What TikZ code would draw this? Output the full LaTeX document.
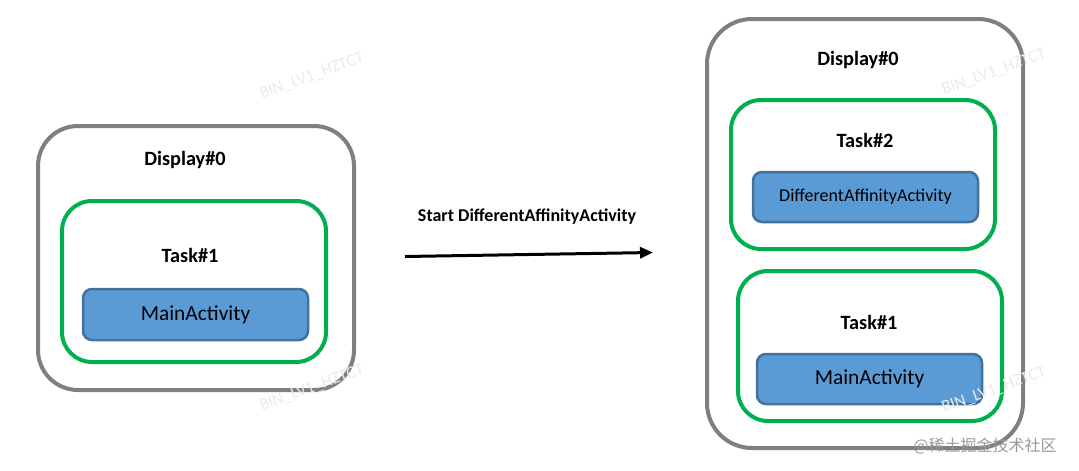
\documentclass[tikz,border=0pt]{standalone}
\usepackage{fontspec}
\setmainfont{Carlito}
\newfontfamily\cjkfont{Noto Sans CJK SC}
\usetikzlibrary{arrows.meta}
\definecolor{dispgray}{HTML}{7F7F7F}
\definecolor{taskgreen}{HTML}{00B050}
\definecolor{actfill}{HTML}{5B9BD5}
\definecolor{actline}{HTML}{41719C}
\definecolor{wmgray}{HTML}{EBEBEB}
\definecolor{wmdark}{HTML}{999999}
\tikzset{
  displaybox/.style={draw=dispgray, line width=4pt, rounded corners=40pt, fill=white, inner sep=0pt},
  taskbox/.style={draw=taskgreen, line width=4pt, rounded corners=30pt, inner sep=0pt},
  actbox/.style={draw=actline, fill=actfill, line width=2.5pt, rounded corners=9pt, inner sep=0pt, font=\fontsize{21.4}{25}\selectfont},
  title/.style={font=\bfseries\fontsize{20.3}{24}\selectfont, inner sep=0pt},
  watermark/.style={text=wmgray, rotate=20, font=\fontsize{17}{20}\selectfont, inner sep=0pt},
}
\begin{document}
\begin{tikzpicture}[x=1pt,y=-1pt]
\useasboundingbox (0,0) rectangle (1079,471);
\fill[white] (0,0) rectangle (1079,471);

% left side
\node[displaybox, minimum width=316pt, minimum height=264pt] (dispL) at (196,258) {};
\node[title] (dispLt) at (185,160) {Display\#0};
\node[taskbox, minimum width=264pt, minimum height=161pt] (taskL) at (194,281.5) {};
\node[title] (taskLt) at (190,255) {Task\#1};
\node[actbox, minimum width=225pt, minimum height=51pt] (mainL) at (195.5,314.5) {MainActivity};

% arrow
\coordinate (aS) at (405,256.5);
\coordinate (aE) at (653,252.5);
\draw[line width=3pt, -{Triangle[length=13pt,width=11pt]}] (aS) -- (aE);
\node[font=\bfseries\fontsize{18}{21}\selectfont, inner sep=0pt] (alab) at (527,217) {Start DifferentAffinityActivity};

% right side
\node[displaybox, rounded corners=45pt, minimum width=316pt, minimum height=429pt] (dispR) at (865,233.5) {};
\node[title] (dispRt) at (858,60) {Display\#0};
\node[taskbox, minimum width=264pt, minimum height=149pt] (task2) at (863,174.5) {};
\node[title] (task2t) at (865,140) {Task\#2};
\node[actbox, font=\fontsize{18.1}{21}\selectfont, minimum width=225pt, minimum height=50pt] (daa) at (865.5,197) {DifferentAffinityActivity};
\node[taskbox, minimum width=264pt, minimum height=150pt] (task1R) at (870,346) {};
\node[title] (task1Rt) at (869,322) {Task\#1};
\node[actbox, minimum width=225pt, minimum height=50pt] (mainR) at (869.5,379) {MainActivity};

% watermarks
\node[watermark] (wm1) at (312,76) {BIN\_LV1\_HZTCT};
\node[watermark] (wm2) at (994,72) {BIN\_LV1\_HZTCT};
\node[watermark] (wm3) at (312,388) {BIN\_LV1\_HZTCT};
\node[watermark] (wm4) at (994,390) {BIN\_LV1\_HZTCT};
\node[text=wmdark, font=\cjkfont\fontsize{16}{19}\selectfont, inner sep=0pt] (wm5) at (985,446) {@稀土掘金技术社区};
\end{tikzpicture}
\end{document}
